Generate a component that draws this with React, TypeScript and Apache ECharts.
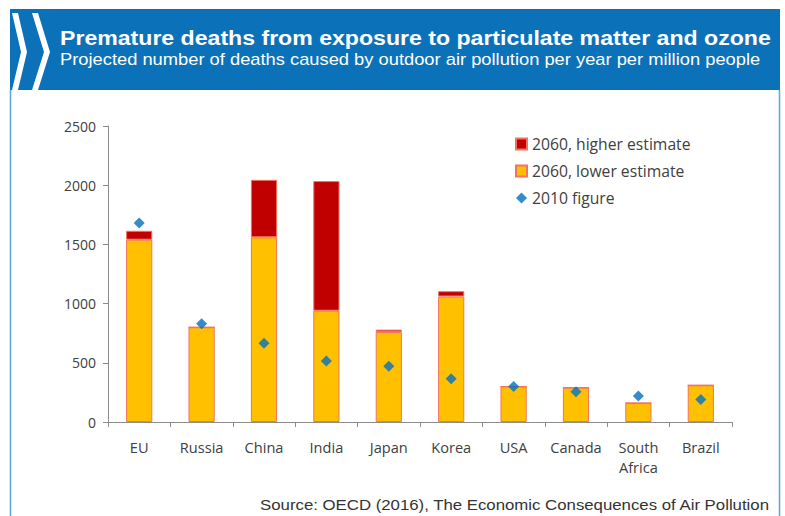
import React, { useEffect, useRef } from "react";
import * as echarts from "echarts";

const categories = ["EU", "Russia", "China", "India", "Japan", "Korea", "USA", "Canada", "South\nAfrica", "Brazil"];
const lowerEstimate2060 = [1540, 800, 1560, 940, 760, 1060, 300, 290, 160, 310];
const higherEstimate2060 = [1615, 800, 2045, 2035, 780, 1105, 300, 290, 160, 310];
const figure2010 = [1680, 830, 665, 515, 470, 365, 300, 255, 220, 190];
const yTicks = [0, 500, 1000, 1500, 2000, 2500];

const titleText = "Premature deaths from exposure to particulate matter and ozone";
const subtitleText = "Projected number of deaths caused by outdoor air pollution per year per million people";
const sourceText = "Source: OECD (2016), The Economic Consequences of Air Pollution";

export default function App() {
  const ref = useRef<HTMLDivElement>(null);
  useEffect(() => {
    if (!ref.current) return;
    const chart = echarts.init(ref.current, null, { renderer: "svg" });
    const increment = higherEstimate2060.map((h, i) => Math.max(0, h - lowerEstimate2060[i]));
    const labelFont = "'Open Sans', sans-serif";
    chart.setOption({
      animation: false,
      backgroundColor: "#ffffff",
      graphic: [
        { type: "rect", shape: { x: 10, y: 9, width: 770, height: 81 }, style: { fill: "#0B72BA" } },
        { type: "line", shape: { x1: 10.5, y1: 90, x2: 10.5, y2: 516 }, style: { stroke: "#5AA5DC", lineWidth: 1.5 } },
        { type: "line", shape: { x1: 779.5, y1: 90, x2: 779.5, y2: 516 }, style: { stroke: "#5AA5DC", lineWidth: 1.5 } },
        { type: "polygon", shape: { points: [[12, 13], [18, 13], [27, 52], [18, 90], [12, 90], [21, 52]] }, style: { fill: "#ffffff" } },
        { type: "polygon", shape: { points: [[32, 13], [38, 13], [50, 52], [38, 90], [32, 90], [44, 52]] }, style: { fill: "#ffffff" } },
        { type: "text", x: 60, y: 27, scaleX: 1.1, style: { text: titleText, fill: "#ffffff", font: "bold 21px 'Liberation Sans', Arial, sans-serif" } },
        { type: "text", x: 60, y: 51, scaleX: 1.145, style: { text: subtitleText, fill: "#ffffff", font: "16px 'Liberation Sans', Arial, sans-serif" } },
        { type: "text", x: 769, y: 497, scaleX: 1.12, style: { text: sourceText, fill: "#333333", align: "right", font: "15px 'Liberation Sans', Arial, sans-serif" } },
      ],
      legend: {
        orient: "vertical",
        left: 510,
        top: 131,
        itemWidth: 11,
        itemHeight: 11,
        itemGap: 11,
        data: [
          { name: "2060, higher estimate", icon: "rect" },
          { name: "2060, lower estimate", icon: "rect" },
          { name: "2010 figure", icon: "diamond", itemStyle: { color: "#0070C0" } },
        ],
        textStyle: { fontSize: 15.7, color: "#404040", fontFamily: labelFont },
      },
      grid: { left: 108, right: 53, top: 126, bottom: 94 },
      xAxis: {
        type: "category",
        data: categories,
        axisLine: { lineStyle: { color: "#8C8C8C", width: 1 } },
        axisTick: { show: true, length: 5, lineStyle: { color: "#8C8C8C" } },
        axisLabel: { fontSize: 14.6, color: "#404040", fontFamily: labelFont, margin: 15, lineHeight: 20, interval: 0 },
      },
      yAxis: {
        type: "value",
        min: 0,
        max: 2500,
        interval: 500,
        splitLine: { show: false },
        axisLine: { show: true, lineStyle: { color: "#8C8C8C", width: 1 } },
        axisTick: { show: true, length: 5, lineStyle: { color: "#8C8C8C" } },
        axisLabel: {
          fontSize: 14, color: "#404040", fontFamily: labelFont, margin: 12,
          formatter: (v: number) => (yTicks.includes(v) ? String(v) : ""),
        },
      },
      series: [
        {
          name: "2060, lower estimate",
          type: "bar",
          stack: "2060",
          barWidth: "42%",
          data: lowerEstimate2060,
          itemStyle: { color: "#FFC000", borderColor: "#F4725E", borderWidth: 1 },
        },
        {
          name: "2060, higher estimate",
          type: "bar",
          stack: "2060",
          barWidth: "42%",
          data: increment,
          itemStyle: { color: "#C00000", borderColor: "#F4725E", borderWidth: 1 },
        },
        {
          name: "2010 figure",
          type: "scatter",
          symbol: "diamond",
          symbolSize: 11,
          data: figure2010,
          itemStyle: { color: "#0070C0" },
          z: 5,
        },
      ],
    });
    return () => chart.dispose();
  }, []);
  return <div ref={ref} style={{ position: "absolute", left: 0, top: 0, width: 785, height: 516 }} />;
}
